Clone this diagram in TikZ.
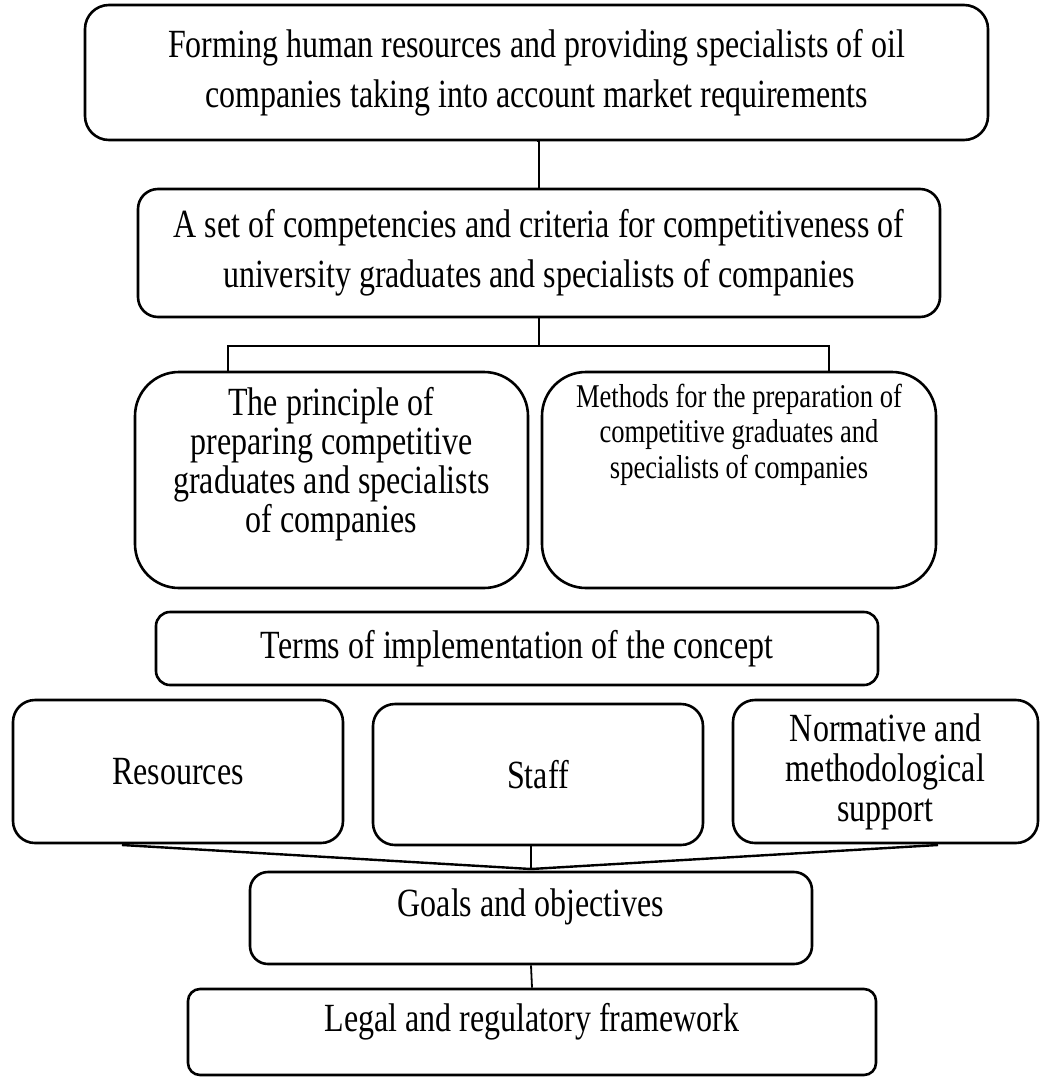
\documentclass[tikz,border=0pt]{standalone}
\usepackage{fontspec}
\setmainfont{Liberation Serif}[FakeStretch=0.8]
\tikzset{
  box/.style={draw, line width=1.3pt, rounded corners=#1, inner sep=0pt, align=center, font=\fontsize{20}{20}\selectfont},
  box/.default=10pt,
  link/.style={line width=0.9pt},
  fan/.style={line width=1.2pt}
}

\begin{document}
\begin{tikzpicture}[x=0.5pt, y=-0.5pt]
		%%%%% START %%%%%
		\useasboundingbox (0,0) rectangle (1040,1077);

		\node[box=12pt, minimum width=451.5pt, minimum height=67.5pt, font=\fontsize{20}{25}\selectfont] (forming) at (536.5,72.5)
			{Forming human resources and providing specialists of oil\\companies taking into account market requirements};
		\node[box=10pt, minimum width=401pt, minimum height=64pt, font=\fontsize{20}{25}\selectfont] (criteria) at (539,253)
			{A set of competencies and criteria for competitiveness of\\university graduates and specialists of companies};

		\node[box=22pt, minimum width=196.5pt, minimum height=108pt, font=\fontsize{20}{19.5}\selectfont] (principle) at (331.5,480)
			{\parbox[c][100pt][c]{194pt}{\centering The principle of\\preparing competitive\\graduates and specialists\\of companies\par\vspace{16pt}}};
		\node[box=22pt, minimum width=197pt, minimum height=108pt, font=\fontsize{16.6}{17.7}\selectfont] (methods) at (739,480)
			{\parbox[c][104pt][t]{194pt}{\centering\vspace*{4pt}Methods for the preparation of\\competitive graduates and\\specialists of companies}};

		\node[box=7pt, minimum width=361pt, minimum height=36.5pt] (terms) at (517,648.5) {Terms of implementation of the concept};

		\node[box=11pt, minimum width=165pt, minimum height=71.5pt] (resources) at (178,771.5) {Resources};
		\node[box=11pt, minimum width=165pt, minimum height=70.5pt] (staff) at (538,774.5) {Staff};
		\node[box=11pt, minimum width=152.5pt, minimum height=71.5pt] (normative) at (885.5,771.5) {Normative and\\methodological\\support};

		\node[box=9pt, minimum width=281pt, minimum height=46pt, text height=13pt, text depth=15pt] (goals) at (531,918) {Goals and objectives};
		\node[box=6pt, minimum width=344pt, minimum height=43pt, text height=13pt, text depth=14pt] (legal) at (532,1032) {Legal and regulatory framework};

		% fork under the criteria box
		\coordinate (forkL) at (228,346);
		\coordinate (forkR) at (829,346);
		\draw[link] (forming.south) -- (criteria.south |- forming.south) -- (criteria.north);
		\draw[link] (criteria.south) -- (criteria.south |- forkL);
		\draw[link] (forkL |- principle.north) -- (forkL) -- (forkR) -- (forkR |- methods.north);

		% three supports meet above the goals
		\coordinate (meet) at (531,869);
		\coordinate (resfoot) at (122,845);
		\coordinate (normfoot) at (938,845);
		\draw[fan] (resfoot) -- (meet) -- (normfoot);
		\draw[link] (meet |- staff.south) -- (meet);

		\draw[link] (goals.south) -- (legal.north);

		%%%%% END %%%%%
	\end{tikzpicture}
\end{document}
